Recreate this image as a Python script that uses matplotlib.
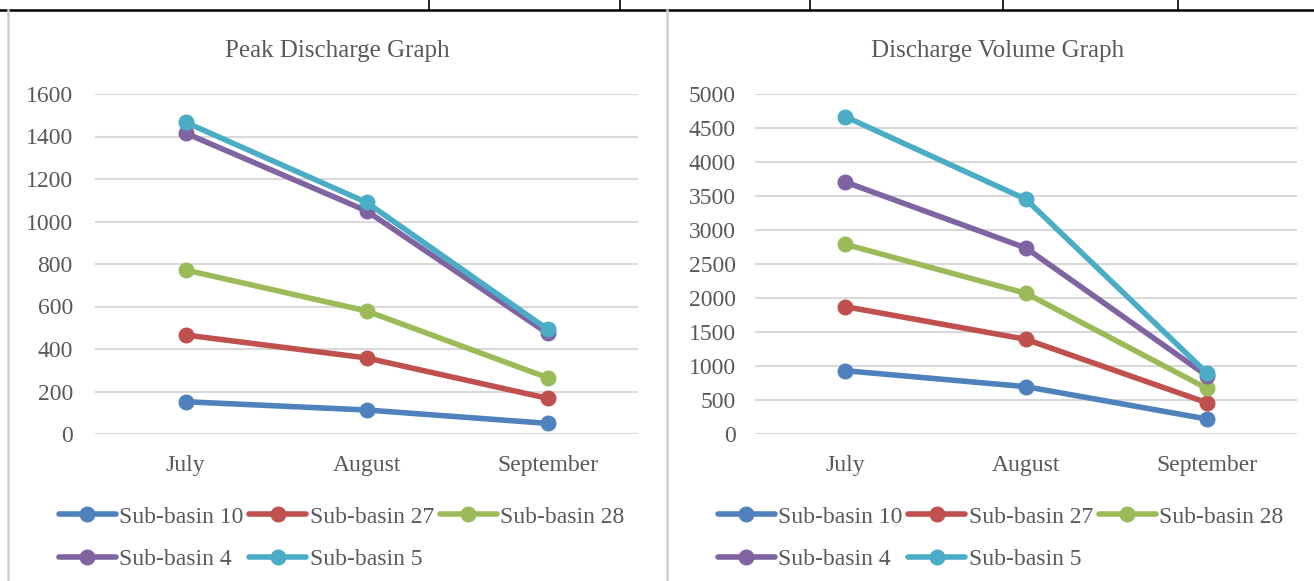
import matplotlib
matplotlib.use("Agg")
import matplotlib.pyplot as plt
from matplotlib.lines import Line2D

months = ["July", "August", "September"]
series_names = ["Sub-basin 10", "Sub-basin 27", "Sub-basin 28", "Sub-basin 4", "Sub-basin 5"]

# peak discharge
peak_sb10 = [152, 113, 50]
peak_sb27 = [466, 358, 168]
peak_sb28 = [772, 579, 265]
peak_sb4 = [1416, 1050, 474]
peak_sb5 = [1467, 1090, 493]

# discharge volume
vol_sb10 = [931, 696, 221]
vol_sb27 = [1873, 1392, 461]
vol_sb28 = [2789, 2069, 672]
vol_sb4 = [3706, 2735, 860]
vol_sb5 = [4667, 3451, 900]

colors = ["#4F81BD", "#C0504D", "#9BBB59", "#8064A2", "#4BACC6"]
txt = "#595959"
grid_c = "#D9D9D9"

plt.rcParams['font.family'] = ['Liberation Serif', 'DejaVu Serif']

W, H = 1314, 581
fig = plt.figure(figsize=(W / 100, H / 100), dpi=100)

def fx(px):
    return px / W

def fy(py):
    return 1 - py / H

def draw_chart(left_px, right_px, title, title_cx, data, ymax, ystep, ypad, legend_x):
    ax = fig.add_axes([fx(left_px), fy(434), fx(right_px - left_px), (434 - 94) / H])
    x = list(range(len(months)))
    lines = []
    for vals, c, name in zip(data, colors, series_names):
        ln, = ax.plot(x, vals, color=c, lw=4, marker='o', ms=10.5, label=name,
                      solid_capstyle='round', clip_on=False)
        lines.append(ln)
    ax.set_xlim(-0.5, 2.5)
    ax.set_ylim(0, ymax)
    ax.set_yticks(range(0, ymax + 1, ystep))
    ax.set_xticks(x)
    ax.set_xticklabels(months)
    ax.grid(axis='y', color=grid_c, lw=1.5)
    ax.set_axisbelow(True)
    for s in ax.spines.values():
        s.set_visible(False)
    ax.tick_params(axis='both', length=0, labelsize=17, colors=txt)
    ax.tick_params(axis='y', pad=ypad)
    ax.tick_params(axis='x', pad=15)
    fig.text(fx(title_cx), fy(57), title, ha='center', va='baseline',
             fontsize=18, color=txt)
    # matplotlib fills legend columns first, excel fills rows first
    order = [0, 3, 1, 4, 2]
    leg = ax.legend([lines[i] for i in order], [series_names[i] for i in order],
                    loc='upper left', bbox_to_anchor=(fx(legend_x), fy(506)),
                    bbox_transform=fig.transFigure, ncol=3, frameon=False,
                    fontsize=17, handlelength=2.4, handletextpad=0.15,
                    columnspacing=0.25, labelspacing=0.9, borderpad=0,
                    borderaxespad=0)
    for t in leg.get_texts():
        t.set_color(txt)
    return ax

draw_chart(95, 638, "Peak Discharge Graph", 337.5,
           [peak_sb10, peak_sb27, peak_sb28, peak_sb4, peak_sb5], 1600, 200, 16, 59)
draw_chart(755, 1297, "Discharge Volume Graph", 997.5,
           [vol_sb10, vol_sb27, vol_sb28, vol_sb4, vol_sb5], 5000, 500, 14, 718)

# surrounding table lines
fig.add_artist(Line2D([0, 1], [fy(10), fy(10)], color='black', lw=1.8))
for xp in [429, 620, 810, 1003, 1178]:
    fig.add_artist(Line2D([fx(xp), fx(xp)], [fy(10), 1], color='black', lw=1.2))
for xp in [8, 667]:
    fig.add_artist(Line2D([fx(xp), fx(xp)], [0, fy(10)], color='#D0D0D0', lw=1.8))

fig.savefig("out.png", dpi=100)
